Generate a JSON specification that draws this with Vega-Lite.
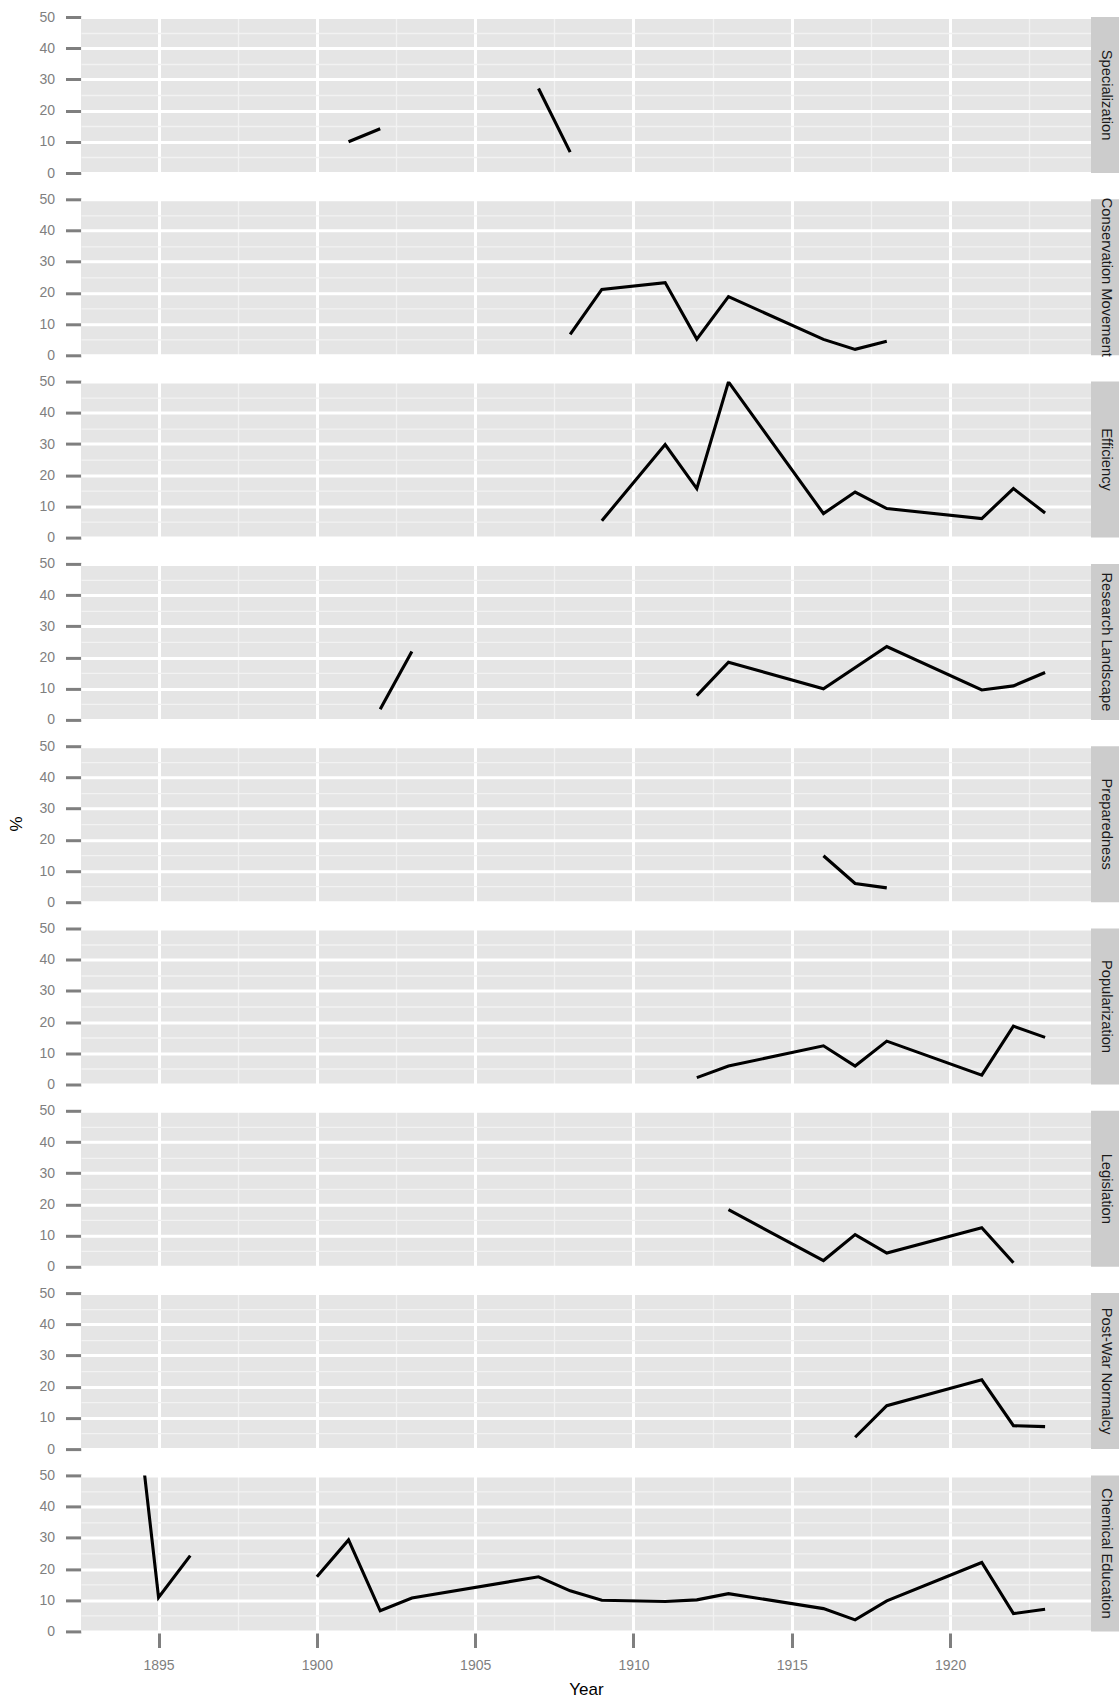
{
  "$schema": "https://vega.github.io/schema/vega-lite/v6.json",
  "background": "white",
  "padding": {"left": 8, "top": 10, "right": 0, "bottom": 0},
  "datasets": {
    "shares": [
      {"topic": "Specialization", "year": 1901, "pct": 10.0},
      {"topic": "Specialization", "year": 1902, "pct": 14.2},
      {"topic": "Specialization", "year": 1903, "pct": null},
      {"topic": "Specialization", "year": 1907, "pct": 27.1},
      {"topic": "Specialization", "year": 1908, "pct": 6.7},

      {"topic": "Conservation Movement", "year": 1908, "pct": 6.7},
      {"topic": "Conservation Movement", "year": 1909, "pct": 21.1},
      {"topic": "Conservation Movement", "year": 1911, "pct": 23.3},
      {"topic": "Conservation Movement", "year": 1912, "pct": 5.2},
      {"topic": "Conservation Movement", "year": 1913, "pct": 18.8},
      {"topic": "Conservation Movement", "year": 1916, "pct": 5.1},
      {"topic": "Conservation Movement", "year": 1917, "pct": 1.9},
      {"topic": "Conservation Movement", "year": 1918, "pct": 4.5},

      {"topic": "Efficiency", "year": 1909, "pct": 5.4},
      {"topic": "Efficiency", "year": 1911, "pct": 29.8},
      {"topic": "Efficiency", "year": 1912, "pct": 15.7},
      {"topic": "Efficiency", "year": 1913, "pct": 49.9},
      {"topic": "Efficiency", "year": 1916, "pct": 7.7},
      {"topic": "Efficiency", "year": 1917, "pct": 14.6},
      {"topic": "Efficiency", "year": 1918, "pct": 9.3},
      {"topic": "Efficiency", "year": 1921, "pct": 6.1},
      {"topic": "Efficiency", "year": 1922, "pct": 15.7},
      {"topic": "Efficiency", "year": 1923, "pct": 7.9},

      {"topic": "Research Landscape", "year": 1902, "pct": 3.4},
      {"topic": "Research Landscape", "year": 1903, "pct": 21.9},
      {"topic": "Research Landscape", "year": 1904, "pct": null},
      {"topic": "Research Landscape", "year": 1912, "pct": 7.8},
      {"topic": "Research Landscape", "year": 1913, "pct": 18.5},
      {"topic": "Research Landscape", "year": 1916, "pct": 10.0},
      {"topic": "Research Landscape", "year": 1918, "pct": 23.5},
      {"topic": "Research Landscape", "year": 1921, "pct": 9.6},
      {"topic": "Research Landscape", "year": 1922, "pct": 10.9},
      {"topic": "Research Landscape", "year": 1923, "pct": 15.2},

      {"topic": "Preparedness", "year": 1916, "pct": 14.9},
      {"topic": "Preparedness", "year": 1917, "pct": 6.0},
      {"topic": "Preparedness", "year": 1918, "pct": 4.6},

      {"topic": "Popularization", "year": 1912, "pct": 2.2},
      {"topic": "Popularization", "year": 1913, "pct": 5.9},
      {"topic": "Popularization", "year": 1916, "pct": 12.4},
      {"topic": "Popularization", "year": 1917, "pct": 5.9},
      {"topic": "Popularization", "year": 1918, "pct": 13.9},
      {"topic": "Popularization", "year": 1921, "pct": 3.0},
      {"topic": "Popularization", "year": 1922, "pct": 18.7},
      {"topic": "Popularization", "year": 1923, "pct": 15.1},

      {"topic": "Legislation", "year": 1913, "pct": 18.3},
      {"topic": "Legislation", "year": 1916, "pct": 2.0},
      {"topic": "Legislation", "year": 1917, "pct": 10.3},
      {"topic": "Legislation", "year": 1918, "pct": 4.4},
      {"topic": "Legislation", "year": 1921, "pct": 12.5},
      {"topic": "Legislation", "year": 1922, "pct": 1.3},

      {"topic": "Post-War Normalcy", "year": 1917, "pct": 3.8},
      {"topic": "Post-War Normalcy", "year": 1918, "pct": 13.9},
      {"topic": "Post-War Normalcy", "year": 1921, "pct": 22.2},
      {"topic": "Post-War Normalcy", "year": 1922, "pct": 7.5},
      {"topic": "Post-War Normalcy", "year": 1923, "pct": 7.2},

      {"topic": "Chemical Education", "year": 1894, "pct": 100},
      {"topic": "Chemical Education", "year": 1895, "pct": 10.9},
      {"topic": "Chemical Education", "year": 1896, "pct": 24.3},
      {"topic": "Chemical Education", "year": 1897, "pct": null},
      {"topic": "Chemical Education", "year": 1900, "pct": 17.5},
      {"topic": "Chemical Education", "year": 1901, "pct": 29.3},
      {"topic": "Chemical Education", "year": 1902, "pct": 6.6},
      {"topic": "Chemical Education", "year": 1903, "pct": 10.7},
      {"topic": "Chemical Education", "year": 1907, "pct": 17.5},
      {"topic": "Chemical Education", "year": 1908, "pct": 13.0},
      {"topic": "Chemical Education", "year": 1909, "pct": 10.0},
      {"topic": "Chemical Education", "year": 1911, "pct": 9.6},
      {"topic": "Chemical Education", "year": 1912, "pct": 10.1},
      {"topic": "Chemical Education", "year": 1913, "pct": 12.1},
      {"topic": "Chemical Education", "year": 1916, "pct": 7.3},
      {"topic": "Chemical Education", "year": 1917, "pct": 3.7},
      {"topic": "Chemical Education", "year": 1918, "pct": 9.8},
      {"topic": "Chemical Education", "year": 1921, "pct": 22.1},
      {"topic": "Chemical Education", "year": 1922, "pct": 5.7},
      {"topic": "Chemical Education", "year": 1923, "pct": 7.1}
    ]
  },
  "data": {"name": "shares"},
  "spacing": 0,
  "hconcat": [
    {
      "facet": {
        "row": {
          "field": "topic",
          "type": "nominal",
          "sort": ["Specialization", "Conservation Movement", "Efficiency", "Research Landscape", "Preparedness", "Popularization", "Legislation", "Post-War Normalcy", "Chemical Education"],
          "header": {
            "title": "%",
            "labels": false,
            "titleOrient": "left",
            "titleAngle": -90,
            "titleFont": "Liberation Sans",
            "titleFontSize": 17,
            "titleFontWeight": "normal",
            "titleColor": "black",
            "titlePadding": -15
          }
        }
      },
      "spacing": 26.3,
      "spec": {
        "width": 1010,
        "height": 156,
        "view": {"fill": "#E5E5E5", "stroke": null},
        "mark": {"type": "line", "color": "black", "strokeWidth": 3.1, "clip": true, "invalid": "break-paths-show-domains"},
        "encoding": {
          "x": {
            "field": "year",
            "type": "quantitative",
            "scale": {"domain": [1892.55, 1924.45], "nice": false, "zero": false},
            "axis": {
              "title": "Year",
              "values": [1895, 1897.5, 1900, 1902.5, 1905, 1907.5, 1910, 1912.5, 1915, 1917.5, 1920, 1922.5],
              "format": "d",
              "labelExpr": "datum.value % 5 === 0 ? datum.label : ''",
              "labelFlush": false,
              "labelOverlap": false,
              "grid": true,
              "gridColor": {"condition": {"test": "datum.value % 5 === 0", "value": "white"}, "value": "#F2F2F2"},
              "gridWidth": {"condition": {"test": "datum.value % 5 === 0", "value": 3}, "value": 1.3},
              "tickOpacity": {"condition": {"test": "datum.value % 5 === 0", "value": 1}, "value": 0},
              "titlePadding": 9
            }
          },
          "y": {
            "field": "pct",
            "type": "quantitative",
            "scale": {"domain": [0, 50], "nice": false, "zero": true},
            "axis": {
              "title": null,
              "values": [0, 5, 10, 15, 20, 25, 30, 35, 40, 45, 50],
              "labelExpr": "datum.value % 10 === 0 ? datum.label : ''",
              "labelOverlap": false,
              "grid": true,
              "gridColor": {"condition": {"test": "datum.value % 10 === 0", "value": "white"}, "value": "#F2F2F2"},
              "gridWidth": {"condition": {"test": "datum.value % 10 === 0", "value": 3}, "value": 1.3},
              "tickOpacity": {"condition": {"test": "datum.value % 10 === 0", "value": 1}, "value": 0}
            }
          }
        }
      }
    },
    {
      "transform": [{"aggregate": [{"op": "count", "as": "n"}], "groupby": ["topic"]}],
      "bounds": "flush",
      "facet": {
        "row": {
          "field": "topic",
          "type": "nominal",
          "sort": ["Specialization", "Conservation Movement", "Efficiency", "Research Landscape", "Preparedness", "Popularization", "Legislation", "Post-War Normalcy", "Chemical Education"],
          "header": {"title": null, "labels": false}
        }
      },
      "spacing": 26.3,
      "spec": {
        "width": 30,
        "height": 156,
        "view": {"fill": "#CCCCCC", "stroke": null},
        "mark": {"type": "text", "angle": 90, "font": "Liberation Sans", "fontSize": 14.7, "color": "#1A1A1A", "baseline": "middle", "align": "center"},
        "encoding": {"text": {"field": "topic", "type": "nominal"}}
      }
    }
  ],
  "config": {
    "font": "Liberation Sans",
    "view": {"stroke": null},
    "axis": {
      "domain": false,
      "tickSize": 15.5,
      "tickWidth": 3,
      "tickColor": "#7F7F7F",
      "labelColor": "#7F7F7F",
      "labelFont": "Liberation Sans",
      "labelFontSize": 14,
      "labelPadding": 11,
      "titleFont": "Liberation Sans",
      "titleFontSize": 17,
      "titleFontWeight": "normal",
      "titleColor": "black"
    }
  }
}
